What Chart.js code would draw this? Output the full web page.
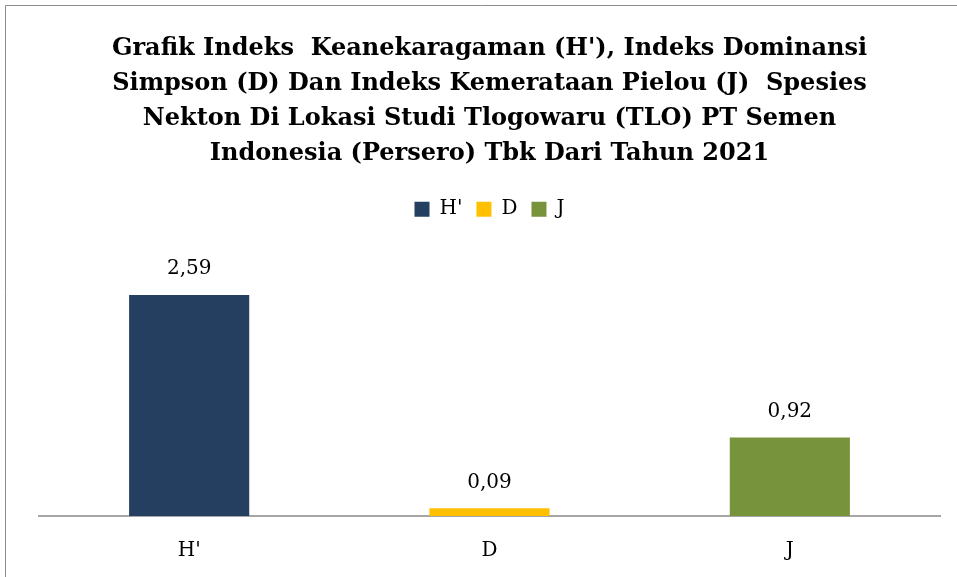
<!DOCTYPE html>
<html>
<head>
<meta charset="utf-8">
<script src="https://cdn.jsdelivr.net/npm/chart.js@4.4.1/dist/chart.umd.min.js"></script>
<style>
  html, body { margin: 0; padding: 0; background: #fff; }
  #wrap { position: relative; width: 957px; height: 577px; }
</style>
</head>
<body>
<div id="wrap"><canvas id="myChart" width="957" height="577"></canvas></div>
<script>
// index values per category
const categories = ["H'", 'D', 'J'];
const indexValues = [2.59, 0.09, 0.92];
const barColors = ['#243F60', '#FFC000', '#77933C'];
const titleLines = [
    "Grafik Indeks  Keanekaragaman (H'), Indeks Dominansi",
    'Simpson (D) Dan Indeks Kemerataan Pielou (J)  Spesies',
    'Nekton Di Lokasi Studi Tlogowaru (TLO) PT Semen',
    'Indonesia (Persero) Tbk Dari Tahun 2021'
];

const serif = "'DejaVu Serif', 'Liberation Serif', serif";

// comma as decimal separator
function formatValue(v) {
    return v.toFixed(2).replace('.', ',');
}

// gray frame on the top and left edge
const framePlugin = {
    id: 'frame',
    beforeDraw(chart) {
        const ctx = chart.ctx;
        ctx.save();
        ctx.fillStyle = '#fff';
        ctx.fillRect(0, 0, chart.width, chart.height);
        ctx.strokeStyle = '#8c8c8c';
        ctx.lineWidth = 1;
        ctx.beginPath();
        ctx.moveTo(5.5, chart.height);
        ctx.lineTo(5.5, 5.5);
        ctx.lineTo(chart.width, 5.5);
        ctx.stroke();
        ctx.restore();
    }
};

// extra room under the legend
const legendGap = {
    id: 'legendGap',
    afterInit(chart) {
        const legend = chart.legend;
        const fit = legend.fit.bind(legend);
        legend.fit = function () {
            fit();
            this.height += 31;
        };
    }
};

// value above each bar
const valueLabels = {
    id: 'valueLabels',
    afterDatasetsDraw(chart) {
        const ctx = chart.ctx;
        const meta = chart.getDatasetMeta(0);
        ctx.save();
        ctx.font = '20px ' + serif;
        ctx.fillStyle = '#000';
        ctx.textAlign = 'center';
        ctx.textBaseline = 'middle';
        meta.data.forEach((bar, i) => {
            const { x, y } = bar.getProps(['x', 'y'], true);
            ctx.fillText(formatValue(indexValues[i]), x, y - 26);
        });
        ctx.restore();
    }
};

function initChart(target) {
    const data = {
        labels: categories,
        datasets: [{
            label: 'Indeks',
            data: indexValues,
            backgroundColor: barColors,
            borderWidth: 0,
            categoryPercentage: 1.0,
            barPercentage: 0.4
        }]
    };

    const config = {
        type: 'bar',
        data: data,
        options: {
            responsive: false,
            animation: false,
            layout: { padding: { left: 39, right: 17, top: 0, bottom: 0 } },
            plugins: {
                title: {
                    display: true,
                    text: titleLines,
                    color: '#000',
                    font: { family: serif, size: 24, weight: 'bold', lineHeight: 1.46 },
                    padding: { top: 31, bottom: 14 }
                },
                legend: {
                    display: true,
                    labels: {
                        color: '#000',
                        font: { family: serif, size: 20 },
                        boxWidth: 15,
                        boxHeight: 15,
                        padding: 14,
                        generateLabels: () => categories.map((c, i) => ({
                            text: c,
                            fillStyle: barColors[i],
                            strokeStyle: barColors[i],
                            lineWidth: 0,
                            index: i
                        }))
                    },
                    onClick: () => {}
                },
                tooltip: { enabled: false }
            },
            scales: {
                x: {
                    grid: { display: false, drawTicks: false },
                    border: { display: true, color: '#a6a6a6', width: 2 },
                    ticks: {
                        color: '#000',
                        font: { family: serif, size: 20 },
                        padding: 23
                    },
                    afterFit(scale) {
                        scale.height -= 9;
                    }
                },
                y: {
                    display: false,
                    min: 0,
                    max: 3
                }
            }
        },
        plugins: [framePlugin, legendGap, valueLabels]
    };

    return new Chart(target, config);
}

const chartTarget = document.querySelector('#myChart');
const myChart = initChart(chartTarget);
</script>
</body>
</html>
